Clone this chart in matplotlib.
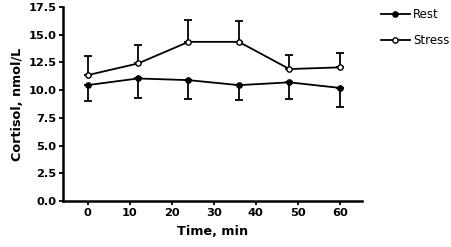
import matplotlib.pyplot as plt

plt.rcParams['font.family'] = ['DejaVu Sans']

time = [0, 12, 24, 36, 48, 60]
rest = [10.45, 11.05, 10.9, 10.45, 10.7, 10.2]
rest_err = [1.4, 1.75, 1.7, 1.35, 1.5, 1.75]
stress = [11.35, 12.4, 14.35, 14.35, 11.9, 12.05]
stress_err = [1.7, 1.7, 1.95, 1.85, 1.25, 1.3]
xticks = [0, 10, 20, 30, 40, 50, 60]
yticks = [0.0, 2.5, 5.0, 7.5, 10.0, 12.5, 15.0, 17.5]

fig = plt.figure(figsize=(4.51, 2.47), dpi=100)
ax = fig.add_axes([0.14, 0.186, 0.662, 0.786])

ax.errorbar(time, rest, yerr=[rest_err, [0] * len(rest_err)], color='black',
            marker='o', markersize=3.8, mfc='black', lw=1.3, elinewidth=1.3,
            capsize=3, capthick=1.3, label='Rest')
ax.errorbar(time, stress, yerr=[[0] * len(stress_err), stress_err], color='black',
            marker='o', markersize=3.8, mfc='white', lw=1.3, elinewidth=1.3,
            capsize=3, capthick=1.3, label='Stress')

ax.set_xlim(-5.8, 65.2)
ax.set_ylim(0, 17.5)
ax.set_xticks(xticks)
ax.set_yticks(yticks)
ax.set_yticklabels([f'{v:.1f}' for v in yticks])
for s in ['top', 'right']:
    ax.spines[s].set_visible(False)
for s in ['left', 'bottom']:
    ax.spines[s].set_linewidth(1.8)
ax.tick_params(width=1.3, length=3, pad=2, labelsize=8.2)
for lbl in ax.get_xticklabels() + ax.get_yticklabels():
    lbl.set_fontweight('bold')
ax.set_xlabel('Time, min', fontsize=9.2, fontweight='bold', labelpad=5)
ax.set_ylabel('Cortisol, nmol/L', fontsize=9.2, fontweight='bold', labelpad=3)

handles, labels = ax.get_legend_handles_labels()
handles = [h[0] for h in handles]
ax.legend(handles, labels, loc='upper left', bbox_to_anchor=(1.03, 1.05),
          frameon=False, fontsize=8.5, handlelength=2.4, handletextpad=0.3,
          labelspacing=1.15)

fig.savefig('out.png', dpi=100)
plt.close('all')
